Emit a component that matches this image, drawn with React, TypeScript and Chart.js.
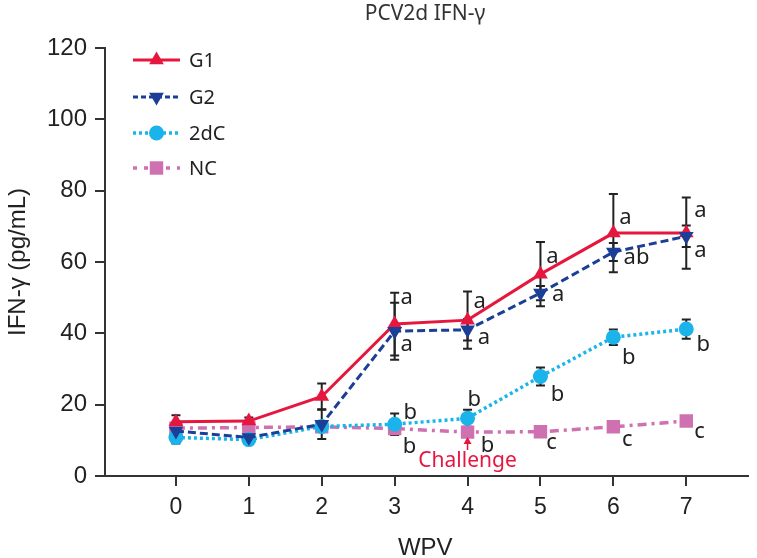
import React, { useEffect, useRef } from 'react';
import { Chart, registerables } from 'chart.js';

Chart.register(...registerables);

// ---- data ----
const weeks = [0, 1, 2, 3, 4, 5, 6, 7];
const g1 = [15.2, 15.4, 22.3, 42.6, 43.7, 56.6, 68.1, 68.1];
const g2 = [12.6, 10.8, 14.5, 40.6, 41.0, 51.3, 62.8, 67.2];
const dC = [10.8, 10.2, 13.9, 14.5, 16.2, 27.9, 38.9, 41.2];
const nc = [13.4, 13.6, 13.8, 13.3, 12.3, 12.4, 13.8, 15.4];

const g1Err = [1.8, 1.0, 3.6, 8.8, 8.0, 9.0, 11.0, 10.0];
const g2Err = [1.0, 1.0, 4.1, 8.0, 3.0, 2.0, 2.5, 3.0];
const dCErr = [1.7, 1.0, 1.0, 3.0, 2.4, 2.5, 2.2, 2.7];
const ncErr = [0.8, 0.8, 0.8, 1.2, 0.8, 0.8, 0.8, 0.8];

const seriesNames = ['G1', 'G2', '2dC', 'NC'];
const yTickValues = [0, 20, 40, 60, 80, 100, 120];

// significance letters: [text, week position, value]
const g1Sig: [string, number, number][] = [['a', 3.08, 50.0], ['a', 4.08, 48.9], ['a', 5.08, 61.3], ['a', 6.08, 72.2], ['a', 7.11, 74.4]];
const g2Sig: [string, number, number][] = [['a', 3.08, 36.6], ['a', 4.14, 38.8], ['a', 5.16, 50.6], ['ab', 6.14, 61.0], ['a', 7.11, 63.2]];
const dCSig: [string, number, number][] = [['b', 3.12, 18.4], ['b', 4.0, 22.0], ['b', 5.14, 23.4], ['b', 6.12, 33.8], ['b', 7.14, 37.4]];
const ncSig: [string, number, number][] = [['b', 3.11, 8.6], ['b', 4.18, 9.1], ['c', 5.08, 9.1], ['c', 6.12, 10.0], ['c', 7.11, 12.2]];

const challengeWeek = 4;
const challengeText = 'Challenge';
const titleText = 'PCV2d IFN-\u03b3';
const yTitleText = 'IFN-\u03b3 (pg/mL)';
const xTitleText = 'WPV';

// ---- styles ----
const RED = '#e6173f';
const BLUE = '#1b3e97';
const CYAN = '#1ab4ea';
const PINK = '#cf70b1';
const INK = '#222222';
const AXIS = '#333333';
const TICK_FONT = '"Liberation Sans", Arial, sans-serif';
const ANN_FONT = '"Noto Sans", "Open Sans", sans-serif';

function drawMarker(ctx: CanvasRenderingContext2D, style: string, x: number, y: number, r: number, rot: number, color: string) {
  ctx.save();
  ctx.fillStyle = color;
  ctx.translate(x, y);
  ctx.rotate((rot * Math.PI) / 180);
  ctx.beginPath();
  if (style === 'triangle') {
    for (let k = 0; k < 3; k++) {
      const a = -Math.PI / 2 + (k * 2 * Math.PI) / 3;
      const px = Math.cos(a) * r;
      const py = Math.sin(a) * r;
      if (k === 0) ctx.moveTo(px, py);
      else ctx.lineTo(px, py);
    }
    ctx.closePath();
  } else if (style === 'circle') {
    ctx.arc(0, 0, r, 0, Math.PI * 2);
  } else {
    const s = r * Math.SQRT1_2;
    ctx.rect(-s, -s, 2 * s, 2 * s);
  }
  ctx.fill();
  ctx.restore();
}

const errorBarPlugin = {
  id: 'errorBars',
  beforeDatasetsDraw(chart: any) {
    const ctx = chart.ctx;
    const xs = chart.scales.x;
    const ys = chart.scales.y;
    ctx.save();
    ctx.strokeStyle = INK;
    ctx.lineWidth = 2;
    chart.data.datasets.forEach((ds: any) => {
      const errs: number[] = ds.errors || [];
      ds.data.forEach((p: any, i: number) => {
        const e = errs[i];
        if (!e) return;
        const x = xs.getPixelForValue(p.x);
        const yTop = ys.getPixelForValue(p.y + e);
        const yBot = ys.getPixelForValue(p.y - e);
        ctx.beginPath();
        ctx.moveTo(x, yTop);
        ctx.lineTo(x, yBot);
        ctx.moveTo(x - 4.5, yTop);
        ctx.lineTo(x + 4.5, yTop);
        ctx.moveTo(x - 4.5, yBot);
        ctx.lineTo(x + 4.5, yBot);
        ctx.stroke();
      });
    });
    ctx.restore();
  },
};

const annotationPlugin = {
  id: 'annotations',
  afterDatasetsDraw(chart: any) {
    const ctx = chart.ctx;
    const xs = chart.scales.x;
    const ys = chart.scales.y;
    const area = chart.chartArea;
    ctx.save();
    // significance letters
    const fs = 22;
    ctx.font = `${fs}px ${ANN_FONT}`;
    ctx.fillStyle = INK;
    ctx.textAlign = 'left';
    ctx.textBaseline = 'alphabetic';
    [g1Sig, g2Sig, dCSig, ncSig].forEach((list) => {
      list.forEach(([t, wx, v]) => {
        const off = t === 'b' ? 0.37 : 0.27;
        ctx.fillText(t, xs.getPixelForValue(wx), ys.getPixelForValue(v) + off * fs);
      });
    });

    // challenge arrow + text
    const cx = xs.getPixelForValue(challengeWeek);
    ctx.strokeStyle = RED;
    ctx.fillStyle = RED;
    ctx.lineWidth = 1.5;
    ctx.beginPath();
    ctx.moveTo(cx, 450);
    ctx.lineTo(cx, 442);
    ctx.stroke();
    ctx.beginPath();
    ctx.moveTo(cx, 437);
    ctx.lineTo(cx - 4, 444);
    ctx.lineTo(cx + 4, 444);
    ctx.closePath();
    ctx.fill();
    ctx.font = `21px ${ANN_FONT}`;
    ctx.textAlign = 'center';
    ctx.textBaseline = 'middle';
    ctx.fillText(challengeText, cx, 461);

    // legend
    const lx0 = 133;
    const lx1 = 180;
    const ly = [60, 97, 133, 168];
    chart.data.datasets.forEach((ds: any, i: number) => {
      const y = ly[i];
      ctx.save();
      ctx.strokeStyle = ds.borderColor;
      ctx.lineWidth = ds.borderWidth;
      ctx.setLineDash(ds.legendDash || []);
      ctx.beginPath();
      ctx.moveTo(lx0, y);
      ctx.lineTo(lx1, y);
      ctx.stroke();
      ctx.restore();
      drawMarker(ctx, ds.pointStyle, (lx0 + lx1) / 2, y, ds.pointRadius, ds.pointRotation || 0, ds.borderColor);
      ctx.fillStyle = INK;
      ctx.font = `20px ${ANN_FONT}`;
      ctx.textAlign = 'left';
      ctx.textBaseline = 'middle';
      ctx.fillText(ds.label, 189, y + 1);
    });

    // titles
    const midX = (area.left + area.right) / 2;
    ctx.fillStyle = '#333333';
    ctx.font = `21px ${ANN_FONT}`;
    ctx.textAlign = 'center';
    ctx.textBaseline = 'middle';
    ctx.fillText(titleText, 425, 14);

    ctx.fillStyle = INK;
    ctx.font = `24px ${TICK_FONT}`;
    ctx.fillText(xTitleText, midX - 1, 548);

    ctx.save();
    ctx.translate(18, (area.top + area.bottom) / 2);
    ctx.rotate(-Math.PI / 2);
    ctx.fillText(yTitleText, 0, 0);
    ctx.restore();

    ctx.restore();
  },
};

function toPoints(vals: number[]) {
  return weeks.map((w, i) => ({ x: w, y: vals[i] }));
}

export default function App() {
  const ref = useRef<HTMLCanvasElement>(null);
  useEffect(() => {
    document.body.style.margin = '0';
    const canvas = ref.current;
    if (!canvas) return;
    const chart = new Chart(canvas, {
      type: 'line',
      data: {
        datasets: [
          {
            label: seriesNames[0], data: toPoints(g1), errors: g1Err,
            borderColor: RED, backgroundColor: RED, borderWidth: 3,
            pointStyle: 'triangle', pointRadius: 8.5, pointBorderWidth: 0, pointBackgroundColor: RED,
            legendDash: [], order: 1,
          },
          {
            label: seriesNames[1], data: toPoints(g2), errors: g2Err,
            borderColor: BLUE, backgroundColor: BLUE, borderWidth: 3, borderDash: [8, 4],
            pointStyle: 'triangle', pointRotation: 180, pointRadius: 8.5, pointBorderWidth: 0, pointBackgroundColor: BLUE,
            legendDash: [5, 3], order: 0,
          },
          {
            label: seriesNames[2], data: toPoints(dC), errors: dCErr,
            borderColor: CYAN, backgroundColor: CYAN, borderWidth: 3.5, borderDash: [3, 3],
            pointStyle: 'circle', pointRadius: 7.5, pointBorderWidth: 0, pointBackgroundColor: CYAN,
            legendDash: [3, 3], order: 2,
          },
          {
            label: seriesNames[3], data: toPoints(nc), errors: ncErr,
            borderColor: PINK, backgroundColor: PINK, borderWidth: 3.5, borderDash: [9, 5, 3, 5],
            pointStyle: 'rect', pointRadius: 9.5, pointBorderWidth: 0, pointBackgroundColor: PINK,
            legendDash: [4, 7], order: 3,
          },
        ] as any,
      },
      options: {
        responsive: false,
        animation: false,
        devicePixelRatio: 1,
        layout: { padding: { top: 48, left: 0, right: 0, bottom: 0 } },
        plugins: {
          legend: { display: false },
          title: { display: false },
          tooltip: { enabled: false },
        },
        elements: { line: { tension: 0 } },
        scales: {
          x: {
            type: 'linear',
            min: -0.973,
            max: 7.84,
            afterBuildTicks: (s: any) => { s.ticks = weeks.map((v) => ({ value: v })); },
            afterFit: (s: any) => { s.height = 82; },
            ticks: {
              font: { family: TICK_FONT, size: 23 },
              color: INK,
              padding: 8,
              callback: (v: any) => String(v),
            },
            grid: { display: true, drawOnChartArea: false, drawTicks: true, tickLength: 10, color: AXIS, lineWidth: 2 },
            border: { display: true, color: AXIS, width: 2 },
          },
          y: {
            type: 'linear',
            min: 0,
            max: 120,
            afterBuildTicks: (s: any) => { s.ticks = yTickValues.map((v) => ({ value: v })); },
            afterFit: (s: any) => { s.width = 105; },
            ticks: {
              font: { family: TICK_FONT, size: 24 },
              color: INK,
              padding: 8,
            },
            grid: { display: true, drawOnChartArea: false, drawTicks: true, tickLength: 10, color: AXIS, lineWidth: 2 },
            border: { display: true, color: AXIS, width: 2 },
          },
        },
      } as any,
      plugins: [errorBarPlugin, annotationPlugin],
    });
    return () => chart.destroy();
  }, []);
  return (
    <div style={{ width: 757, height: 558 }}>
      <canvas ref={ref} width={757} height={558} style={{ display: 'block' }} />
    </div>
  );
}
